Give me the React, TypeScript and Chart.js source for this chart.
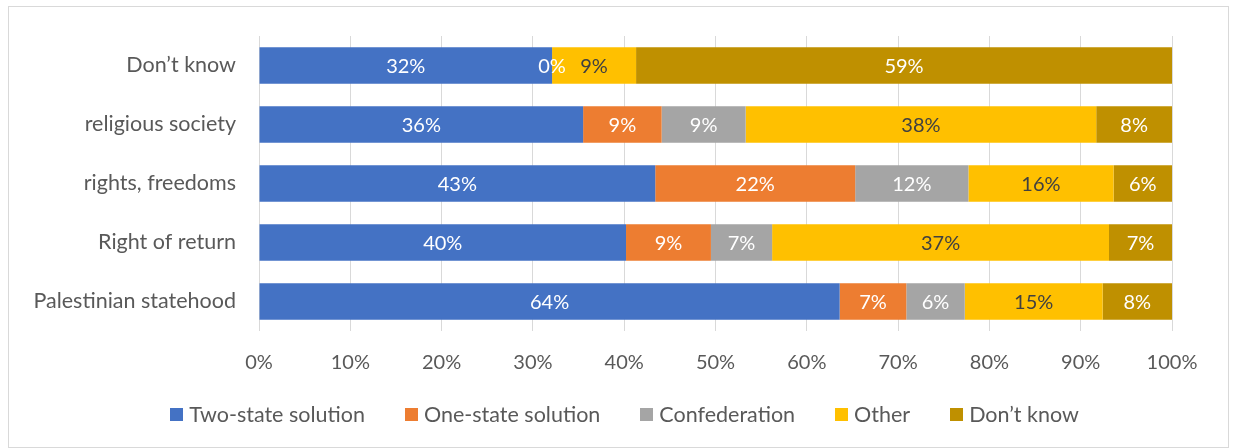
import React, { useEffect, useRef } from "react";
import { Chart, registerables } from "chart.js";

Chart.register(...registerables);

const categories = ["Don\u2019t know", "religious society", "rights, freedoms", "Right of return", "Palestinian statehood"];
const seriesNames = ["Two-state solution", "One-state solution", "Confederation", "Other", "Don\u2019t know"];
const twoState = [32.1, 35.5, 43.4, 40.2, 63.6];
const oneState = [0, 8.6, 21.9, 9.3, 7.3];
const confederation = [null, 9.2, 12.4, 6.7, 6.4];
const other = [9.2, 38.4, 15.9, 36.9, 15.1];
const dontKnow = [58.7, 8.3, 6.4, 6.9, 7.6];
const seriesValues = [twoState, oneState, confederation, other, dontKnow];
const seriesColors = ["#4472C4", "#ED7D31", "#A5A5A5", "#FFC000", "#BF9000"];
const labelColors = ["#FFFFFF", "#FFFFFF", "#FFFFFF", "#404040", "#FFFFFF"];
const xMin = 0;
const xMax = 100;
const xStep = 10;

const FONT = "Lato";
const FS_TEXT = 21.5;
const FS_NUM = 20;
const TEXT = "#595959";

const valueLabelPlugin = {
  id: "valueLabels",
  afterDatasetsDraw(chart: any) {
    const ctx = chart.ctx;
    ctx.save();
    ctx.font = `${FS_NUM}px ${FONT}`;
    ctx.textAlign = "center";
    ctx.textBaseline = "middle";
    chart.data.datasets.forEach((ds: any, di: number) => {
      const meta = chart.getDatasetMeta(di);
      meta.data.forEach((el: any, i: number) => {
        const v = ds.data[i];
        if (v === null || v === undefined) return;
        const cx = (el.x + el.base) / 2;
        ctx.fillStyle = labelColors[di];
        ctx.fillText(Math.round(v) + "%", cx, el.y + 1);
      });
    });
    ctx.restore();
  },
};

const legendPlugin = {
  id: "customLegend",
  afterDraw(chart: any) {
    const ctx = chart.ctx;
    ctx.save();
    ctx.font = `${FS_TEXT}px ${FONT}`;
    ctx.textBaseline = "middle";
    ctx.textAlign = "left";
    const box = 13;
    const gap = 6;
    const spacing = 40;
    const items = chart.data.datasets.map((ds: any) => ({
      text: ds.label,
      color: ds.backgroundColor,
      w: ctx.measureText(ds.label).width,
    }));
    const total =
      items.reduce((s: number, it: any) => s + box + gap + it.w, 0) + spacing * (items.length - 1);
    const cx = chart.width / 2 + 6;
    const cy = 407;
    let x = cx - total / 2;
    items.forEach((it: any) => {
      ctx.fillStyle = it.color;
      ctx.fillRect(Math.round(x), Math.round(cy - box / 2), box, box);
      ctx.fillStyle = TEXT;
      ctx.fillText(it.text, x + box + gap, cy + 1);
      x += box + gap + it.w + spacing;
    });
    ctx.restore();
  },
};

export default function App() {
  const ref = useRef<HTMLCanvasElement | null>(null);

  useEffect(() => {
    if (!ref.current) return;
    const chart = new Chart(ref.current, {
      type: "bar",
      data: {
        labels: categories,
        datasets: seriesNames.map((name, i) => ({
          label: name,
          data: seriesValues[i],
          backgroundColor: seriesColors[i],
          borderWidth: 0,
          categoryPercentage: 1,
          barPercentage: 0.62,
        })),
      },
      options: {
        indexAxis: "y",
        responsive: true,
        maintainAspectRatio: false,
        animation: false,
        layout: { padding: { top: 29, right: 56, bottom: 66, left: 0 } },
        plugins: {
          legend: { display: false },
          tooltip: { enabled: false },
          title: { display: false },
        },
        scales: {
          x: {
            stacked: true,
            min: xMin,
            max: xMax,
            grid: { color: "#D9D9D9", lineWidth: 1, drawTicks: false },
            border: { display: false },
            ticks: {
              stepSize: xStep,
              padding: 20,
              color: TEXT,
              font: { family: FONT, size: FS_NUM },
              callback: (v: any) => v + "%",
            },
            afterFit: (s: any) => {
              s.height = 50;
              s.paddingLeft = 0;
              s.paddingRight = 0;
            },
          },
          y: {
            stacked: true,
            grid: { display: false, drawTicks: false },
            border: { display: false },
            ticks: {
              padding: 23,
              color: TEXT,
              font: { family: FONT, size: FS_TEXT },
            },
            afterFit: (s: any) => {
              s.width = 250;
              s.paddingTop = 0;
              s.paddingBottom = 0;
            },
          },
        },
      },
      plugins: [valueLabelPlugin, legendPlugin],
    });
    return () => chart.destroy();
  }, []);

  return (
    <div
      style={{
        position: "absolute",
        left: 8,
        top: 6,
        width: 1221,
        height: 442,
        border: "1px solid #D9D9D9",
        boxSizing: "border-box",
        background: "#fff",
      }}
    >
      <div style={{ position: "relative", width: "100%", height: "100%" }}>
        <canvas ref={ref} />
      </div>
    </div>
  );
}
